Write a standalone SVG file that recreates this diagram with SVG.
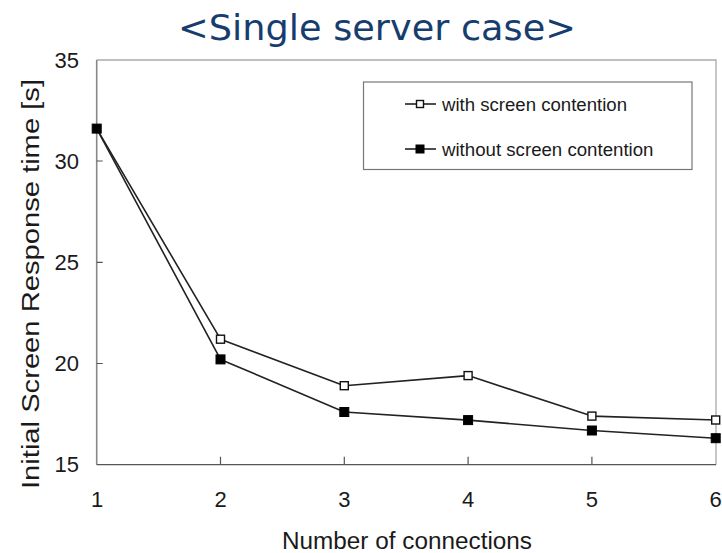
<svg xmlns="http://www.w3.org/2000/svg" width="722" height="553" viewBox="0 0 722 553">
<style>
.t{font-family:"Liberation Sans",Arial,sans-serif;fill:#1a1a1a}
.tick{font-size:22px}
.ser{fill:none;stroke:#222;stroke-width:1.6;stroke-linejoin:round}
.om{fill:#fff;stroke:#111;stroke-width:1.4}
.fm{fill:#000;stroke:#000;stroke-width:1}
</style>
<rect width="722" height="553" fill="#fff"/>
<text id="title" x="377" y="40" text-anchor="middle" font-family="'DejaVu Sans',Verdana,sans-serif" font-size="36" fill="#173d6e" textLength="398" lengthAdjust="spacingAndGlyphs">&lt;Single server case&gt;</text>
<g id="plot-frame">
<path d="M96.7 60 H716 V464.7" fill="none" stroke="#aaa" stroke-width="1.3"/>
<path d="M96.7 60 V464.7" fill="none" stroke="#888" stroke-width="1.6"/>
<path d="M96.7 464.7 H716" fill="none" stroke="#555" stroke-width="1.3"/>
<path d="M96.7 161 h6 M96.7 262.3 h6 M96.7 363.5 h6 M220.5 464.7 v-8 M344.3 464.7 v-8 M468.1 464.7 v-8 M591.9 464.7 v-8" stroke="#555" stroke-width="1.2"/>
</g>
<g id="y-ticks" class="t tick" text-anchor="end">
<text x="79" y="68">35</text>
<text x="79" y="169">30</text>
<text x="79" y="270">25</text>
<text x="79" y="371">20</text>
<text x="79" y="472">15</text>
</g>
<g id="x-ticks" class="t tick" text-anchor="middle">
<text x="97" y="507">1</text>
<text x="220.5" y="507">2</text>
<text x="344.3" y="507">3</text>
<text x="468.1" y="507">4</text>
<text x="591.9" y="507">5</text>
<text x="715.7" y="507">6</text>
</g>
<text id="x-title" class="t" x="407" y="549" text-anchor="middle" font-size="23" textLength="250" lengthAdjust="spacingAndGlyphs">Number of connections</text>
<text id="y-title" class="t" transform="translate(39 284) rotate(-90)" text-anchor="middle" font-size="23" textLength="410" lengthAdjust="spacingAndGlyphs">Initial Screen Response time [s]</text>
<g id="connectors">
<polyline id="with" class="ser" points="96.7,128.6 220.5,339.2 344.3,385.7 468.1,375.6 591.9,416.1 715.7,420"/>
<polyline id="without" class="ser" points="96.7,128.6 220.5,359.4 344.3,412 468.1,420.1 591.9,430.5 715.7,438.2"/>
</g>
<g id="markers-with">
<rect class="om" x="216.5" y="335.2" width="8" height="8"/>
<rect class="om" x="340.3" y="381.7" width="8" height="8"/>
<rect class="om" x="464.1" y="371.6" width="8" height="8"/>
<rect class="om" x="587.9" y="412.1" width="8" height="8"/>
<rect class="om" x="711.7" y="416" width="8" height="8"/>
</g>
<g id="markers-without">
<rect class="fm" x="92.2" y="124.1" width="9" height="9"/>
<rect class="fm" x="216" y="354.9" width="9" height="9"/>
<rect class="fm" x="339.8" y="407.5" width="9" height="9"/>
<rect class="fm" x="463.6" y="415.6" width="9" height="9"/>
<rect class="fm" x="587.4" y="426" width="9" height="9"/>
<rect class="fm" x="711.2" y="433.7" width="9" height="9"/>
</g>
<g id="legend">
<rect x="363.5" y="82" width="328.5" height="87.5" fill="#fff" stroke="#777" stroke-width="1.2"/>
<path d="M405 104 H436" stroke="#222" stroke-width="1.6"/>
<rect class="om" x="416.5" y="100.5" width="7" height="7"/>
<text class="t" x="442" y="110.5" font-size="18" textLength="185" lengthAdjust="spacingAndGlyphs">with screen contention</text>
<path d="M405 149 H436" stroke="#222" stroke-width="1.6"/>
<rect class="fm" x="416" y="145" width="8" height="8"/>
<text class="t" x="442" y="155.5" font-size="18" textLength="211.5" lengthAdjust="spacingAndGlyphs">without screen contention</text>
</g>
</svg>
